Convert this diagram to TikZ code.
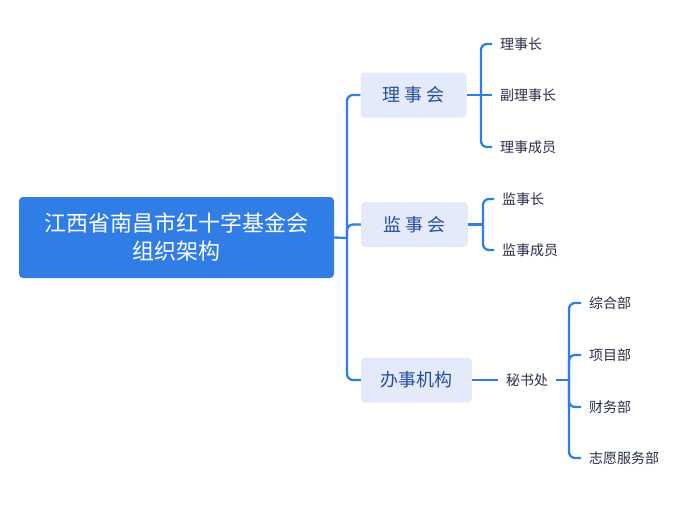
\documentclass[tikz,border=0pt]{standalone}
\usepackage{fontspec}
\setmainfont{Noto Sans CJK SC}
\definecolor{RootBlue}{RGB}{47,125,229}
\definecolor{PaleBlue}{RGB}{228,234,250}
\definecolor{TextBlue}{RGB}{38,78,158}
\definecolor{LeafGray}{RGB}{40,46,70}
\usetikzlibrary{positioning}

\begin{document}
\begin{tikzpicture}[x=1pt,y=-1pt,
        root/.style={fill=RootBlue,rounded corners=4pt,text=white,
                     minimum width=315pt,minimum height=81pt,align=center,
                     font=\fontsize{22}{28}\selectfont},
        box/.style={fill=PaleBlue,rounded corners=4pt,text=TextBlue,
                    minimum width=106pt,minimum height=45pt,
                    font=\fontsize{18}{20}\selectfont},
        leaf/.style={anchor=west,inner xsep=8pt,inner ysep=2pt,text=LeafGray,
                     font=\fontsize{14}{16}\selectfont},
        link/.style={draw=RootBlue,line width=2.3pt,rounded corners=6pt}]
  \useasboundingbox (0,0) rectangle (697,530);
  % main boxes
  \node[root] (root) at (176.5,237.5) {江西省南昌市红十字基金会\\组织架构};
  \node[box] (lsh) at (413.5,95) {理\ 事\ 会};
  \node[box,minimum width=107pt] (jsh) at (414.5,224.5) {监\ 事\ 会};
  \node[box,minimum width=111pt] (bsjg) at (416.5,380) {办事机构};
  \coordinate (trunk) at (347,238);
  \draw[link] (root.east) -- (trunk);
  \draw[link] (trunk) |- (lsh.west);
  \draw[link] (trunk) |- (jsh.west);
  \draw[link] (trunk) |- (bsjg.west);
  % 理事会
  \node[leaf] (lsz) at (492,44) {理事长};
  \node[leaf] (flsz) at (492,95) {副理事长};
  \node[leaf] (lscy) at (492,147) {理事成员};
  \coordinate (lj) at (481,95);
  \draw[link] (lsh.east) -- (flsz.west);
  \draw[link] (lj) |- (lsz.west);
  \draw[link] (lj) |- (lscy.west);
  % 监事会
  \node[leaf] (jsz) at (494,199) {监事长};
  \node[leaf] (jscy) at (494,250) {监事成员};
  \coordinate (jj) at (483,224.5);
  \draw[link] (jsh.east) -- (jj);
  \draw[link] (jj) |- (jsz.west);
  \draw[link] (jj) |- (jscy.west);
  % 办事机构
  \node[leaf] (msc) at (498,380) {秘书处};
  \draw[link] (bsjg.east) -- (msc.west);
  \node[leaf] (zhb) at (581,303) {综合部};
  \node[leaf] (xmb) at (581,355) {项目部};
  \node[leaf] (cwb) at (581,407) {财务部};
  \node[leaf] (zyfw) at (581,458) {志愿服务部};
  \coordinate (mj) at (569,380);
  \draw[link] (msc.east) -- (mj);
  \foreach \d in {zhb,xmb,cwb,zyfw}
    \draw[link] (mj) |- (\d.west);
\end{tikzpicture}
\end{document}
